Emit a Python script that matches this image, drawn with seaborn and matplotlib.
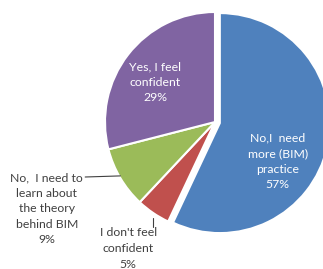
import matplotlib
matplotlib.use("Agg")
import matplotlib.pyplot as plt
import seaborn as sns

labels = ["No,I  need\nmore (BIM)\npractice", "I don't feel\nconfident",
          "No,  I need to\nlearn about\nthe theory\nbehind BIM", "Yes, I feel\nconfident"]
values = [57, 5, 9, 29]
colors = ["#4F81BD", "#C0504D", "#9BBB59", "#8064A2"]

sns.set_theme(style="white")
plt.rcParams["font.family"] = ["Lato", "DejaVu Sans"]

W, H = 323, 269
fig = plt.figure(figsize=(W / 100, H / 100), dpi=100)
cx, cy, r = 215, 122, 110
ax = fig.add_axes([(cx - r) / W, (H - cy - r) / H, 2 * r / W, 2 * r / H])
wedges, _ = ax.pie(values, colors=colors, startangle=90, counterclock=False,
                   explode=[0.045, 0, 0, 0], radius=1,
                   wedgeprops=dict(edgecolor="white", linewidth=1.5))
for w in wedges:
    w.set_clip_on(False)
ax.set_xlim(-1, 1)
ax.set_ylim(-1, 1)
ax.set_aspect("auto")
ax.axis("off")

fs = 8.8
ls = 1.5
# inside labels
ax.text(-0.545, 0.36, f"{labels[3]}\n{values[3]}%", ha="center", va="center",
        color="white", fontsize=fs, linespacing=ls)
ax.text(0.57, -0.36, f"{labels[0]}\n{values[0]}%", ha="center", va="center",
        color="white", fontsize=fs, linespacing=ls)
# outside labels
ax.text(-1.53, -0.79, f"{labels[2]}\n{values[2]}%", ha="center", va="center",
        color="#404040", fontsize=fs, linespacing=ls)
ax.text(-0.79, -1.15, f"{labels[1]}\n{values[1]}%", ha="center", va="center",
        color="#404040", fontsize=fs, linespacing=ls)
# leader lines
ax.plot([-1.18, -0.86], [-0.5, -0.49], color="#404040", lw=0.8, clip_on=False)
ax.plot([-0.56, -0.56], [-0.87, -0.95], color="#404040", lw=0.8, clip_on=False)

fig.savefig("out.png", dpi=100, facecolor="white")
